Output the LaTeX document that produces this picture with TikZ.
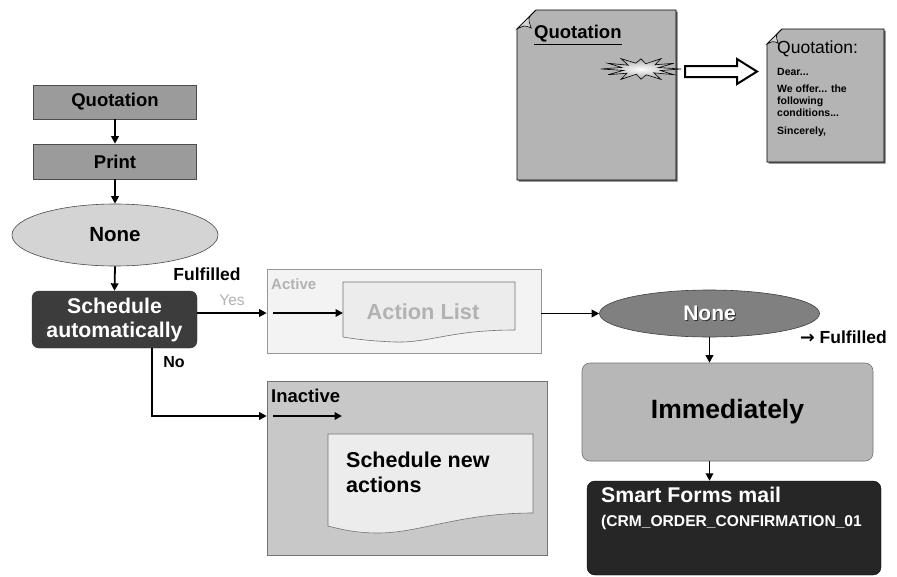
\documentclass[tikz,border=0pt]{standalone}
\usepackage{fontspec}
\setmainfont{Liberation Sans}
\newfontfamily\symbfont{DejaVu Sans}
\usetikzlibrary{arrows.meta,shapes.geometric}

\definecolor{boxgray}{RGB}{155,155,155}
\definecolor{ovallight}{RGB}{212,212,212}
\definecolor{darkbox}{RGB}{60,60,60}
\definecolor{activebg}{RGB}{243,243,243}
\definecolor{activeline}{RGB}{150,150,150}
\definecolor{paperlight}{RGB}{236,236,236}
\definecolor{fadetext}{RGB}{178,178,178}
\definecolor{ovaldark}{RGB}{128,128,128}
\definecolor{immedgray}{RGB}{183,183,183}
\definecolor{blackbox}{RGB}{38,38,38}
\definecolor{inactivebg}{RGB}{200,200,200}
\definecolor{docgray}{RGB}{180,180,180}

\newcommand\fsz[2]{\fontsize{#1}{#2}\selectfont}

% sheet of paper with a curled top-left corner: x1 y1 x2 y2 fold
\newcommand\paperdoc[5]{%
  \fill[black!60,shift={(1.5,1.5)}] (#1+#5,#2) -- (#3,#2) -- (#3,#4) -- (#1,#4) -- (#1,#2+#5) -- cycle;
  \draw[fill=docgray,line width=0.8pt] (#1+#5,#2) -- (#3,#2) -- (#3,#4) -- (#1,#4) -- (#1,#2+#5) -- cycle;
  \filldraw[fill=gray!35,line width=0.6pt] (#1+#5,#2) .. controls (#1+#5*0.55,#2+#5*0.4) .. (#1+#5*0.75,#2+#5*0.95)
     .. controls (#1+#5*0.4,#2+#5*0.8) .. (#1,#2+#5) -- cycle;
}

\tikzset{
  arr/.style={line width=1.8pt,-{Triangle[length=7.5pt,width=7.5pt]}},
  flowbox/.style={draw=black!70,line width=0.6pt,fill=boxgray,inner sep=0pt,font=\bfseries\fsz{18.5}{22}},
  oval/.style={ellipse,draw=black!70,line width=0.6pt,inner sep=0pt},
  lbl/.style={inner sep=0pt,font=\bfseries\fsz{17.5}{20}},
}

\begin{document}
\begin{tikzpicture}[x=1pt,y=-1pt]
\useasboundingbox (0,0) rectangle (897,576);
\fill[white] (0,0) rectangle (897,576);

% ---------- left column ----------
\node[flowbox,minimum width=163pt,minimum height=34pt] (quot) at (115,102) {Quotation};
\node[flowbox,minimum width=163pt,minimum height=35pt] (print) at (115,161.5) {Print};
\node[oval,fill=ovallight,minimum width=206pt,minimum height=62pt,font=\bfseries\fsz{20.5}{24}] (none1) at (115,235) {None};
\node[draw=black!80,fill=darkbox,rounded corners=7pt,minimum width=165pt,minimum height=57pt,
      inner sep=0pt,text=white,align=center,font=\bfseries\fsz{21.3}{24}] (sched) at (114.5,319.5) {Schedule\\automatically};

\draw[arr] (quot.south) -- (print.north);
\draw[arr] (print.south) -- (none1.north);
\draw[arr] (none1.south) -- (sched.north);

\node[lbl] (fulf1) at (207,274) {Fulfilled};
\node[lbl,font=\fsz{15.5}{18},text=fadetext] (yes) at (232,300) {Yes};
\node[lbl,font=\bfseries\fsz{16}{18}] (no) at (174,362) {No};

% ---------- active branch ----------
\node[draw=activeline,fill=activebg,line width=0.6pt,minimum width=274pt,minimum height=84pt,inner sep=0pt] (active) at (404,311) {};
\node[lbl,anchor=west,font=\bfseries\fsz{15}{18},text=fadetext] (activelbl) at (271,284) {Active};
\draw[draw=black!55,fill=paperlight,line width=0.6pt] (343,282) -- (515,282) -- (515,330)
   .. controls (450,330) and (430,343) .. (395,342) .. controls (370,341) and (355,339) .. (343,337) -- cycle;
\node[lbl,font=\bfseries\fsz{21.8}{24},text=fadetext] (actlist) at (423,312) {Action List};
\coordinate (ain) at (273,313);
\coordinate (aend) at (343,313);
\draw[arr] (ain) -- (aend);
\coordinate (yesrow) at (0,313);
\draw[arr] (sched.east |- yesrow) -- (active.west |- yesrow);

% ---------- inactive branch ----------
\node[draw=black!55,fill=inactivebg,line width=0.6pt,minimum width=280pt,minimum height=174pt,inner sep=0pt] (inactive) at (407,468) {};
\node[lbl,anchor=west,font=\bfseries\fsz{18.5}{20}] (inactlbl) at (271,396) {Inactive};
\draw[draw=black!55,fill=paperlight,line width=0.6pt] (328,434) -- (533,434) -- (533,513)
   .. controls (460,513) and (420,533) .. (378,533) .. controls (355,533) and (340,529) .. (328,526) -- cycle;
\node[inner sep=0pt,anchor=west,align=left,font=\bfseries\fsz{21.5}{25}] (schednew) at (346,472) {Schedule new\\actions};
\coordinate (iin) at (273,416);
\coordinate (iend) at (342,416);
\draw[arr] (iin) -- (iend);
\coordinate (nobend) at (152,416);
\draw[arr] (sched.south -| nobend) -- (nobend) -- (inactive.west |- nobend);

% ---------- right column ----------
\node[oval,draw=black!75,fill=ovaldark,minimum width=220pt,minimum height=47pt] (none2) at (709.5,313.5) {};
\node[lbl,font=\bfseries\fsz{21}{24},text=black!80] (none2shadow) at (710.5,314.5) {None};
\node[lbl,font=\bfseries\fsz{21}{24},text=white] (none2txt) at (709.5,313.5) {None};
\node[lbl,anchor=west] (fulf2) at (800,337) {{\symbfont\bfseries →} Fulfilled};
\draw[arr] (active.east |- none2) -- (none2.west);

\node[draw=black!55,fill=immedgray,rounded corners=8pt,line width=0.6pt,minimum width=291pt,minimum height=98pt,
      inner sep=0pt,font=\bfseries\fsz{26.5}{30}] (immed) at (727.5,412) {Immediately};
\node[fill=blackbox,draw=black,rounded corners=8pt,minimum width=294pt,minimum height=94pt,inner sep=0pt] (smart) at (734,528) {};
\node[inner sep=0pt,anchor=west,text=white,font=\bfseries\fsz{21.3}{24}] (smart1) at (601,495) {Smart Forms mail};
\node[inner sep=0pt,anchor=west,text=white,font=\bfseries\fsz{15.6}{18}] (smart2) at (601,522) {(CRM\_ORDER\_CONFIRMATION\_01};

\draw[arr] (none2.south) -- (none2.south |- immed.north);
\draw[arr] (none2.south |- immed.south) -- (none2.south |- smart.north);

% ---------- printed document ----------
\paperdoc{517}{10}{676}{180}{19}
\node[inner sep=0pt,anchor=west,font=\bfseries\fsz{18.5}{20}] (bigquot) at (534,35) {\underline{Quotation}};
\shadedraw[inner color=white,outer color=gray!70,line width=0.6pt] (681,69)
  \foreach \a/\r in {15/0.5,30/0.95,45/0.45,60/1.0,75/0.5,90/0.85,105/0.45,120/1.0,135/0.5,150/0.95,165/0.45,
                     180/1.0,195/0.5,210/0.95,225/0.45,240/1.0,255/0.5,270/0.85,285/0.45,300/1.0,315/0.5,330/0.95,345/0.45}
  { -- ({641+40*\r*cos(\a)},{69+12*\r*sin(\a)}) } -- cycle;
\draw[fill=white,line width=2pt,line join=miter] (685,66) -- (737,66) -- (737,59) -- (757,71.5) -- (737,84) -- (737,77) -- (685,77) -- cycle;

\paperdoc{767}{29}{884}{162}{15}
\node[inner sep=0pt,anchor=west,font=\fsz{17.5}{20}] (smallquot) at (777,49) {Quotation:};
\node[inner sep=0pt,anchor=west,font=\bfseries\fsz{10.5}{12}] (dear) at (777,72) {Dear...};
\node[inner sep=0pt,anchor=north west,align=left,font=\bfseries\fsz{10.5}{12}] (offer) at (777,85) {We offer... the\\following\\conditions...};
\node[inner sep=0pt,anchor=west,font=\bfseries\fsz{10.5}{12}] (sincere) at (777,132) {Sincerely,};
\end{tikzpicture}
\end{document}
